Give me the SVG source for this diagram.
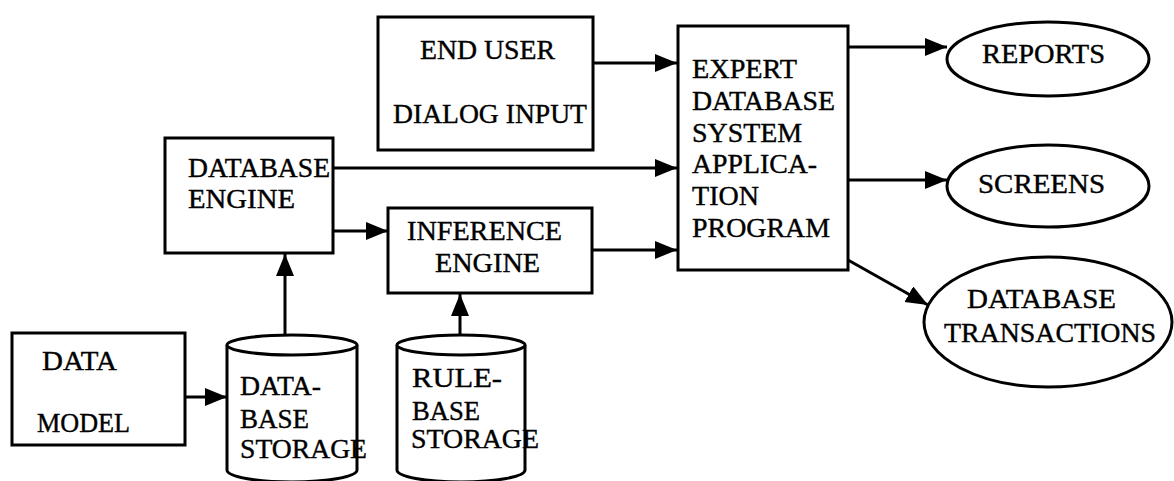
<svg xmlns="http://www.w3.org/2000/svg" width="1174" height="481" viewBox="0 0 1174 481">
  <style>
    .box { fill: #fff; stroke: #000; stroke-width: 3; }
    .edge { fill: none; stroke: #000; stroke-width: 3; }
    text { font-family: 'Liberation Serif', 'Times New Roman', serif; font-size: 28px; fill: #000; stroke: #000; stroke-width: 0.4; }
  </style>
  <defs>
    <marker id="arrow" markerUnits="userSpaceOnUse" markerWidth="24" markerHeight="20" refX="22" refY="9" orient="auto">
      <path d="M0,0 L22,9 L0,18 z" fill="#000"/>
    </marker>
  </defs>
  <rect width="1174" height="481" fill="#fff"/>

  <!-- Connectors -->
  <g id="connectors">
    <path class="edge" d="M593,63 L677,63" marker-end="url(#arrow)"/>
    <path class="edge" d="M333,168 L677,168" marker-end="url(#arrow)"/>
    <path class="edge" d="M333,231 L388,231" marker-end="url(#arrow)"/>
    <path class="edge" d="M592,250 L677,250" marker-end="url(#arrow)"/>
    <path class="edge" d="M848,47 L947,47" marker-end="url(#arrow)"/>
    <path class="edge" d="M848,180 L947,180" marker-end="url(#arrow)"/>
    <path class="edge" d="M848,260 L928,305" marker-end="url(#arrow)"/>
    <path class="edge" d="M185,397 L227,397" marker-end="url(#arrow)"/>
    <path class="edge" d="M285,335 L285,254" marker-end="url(#arrow)"/>
    <path class="edge" d="M460,335 L460,294" marker-end="url(#arrow)"/>
  </g>

  <!-- End user dialog input -->
  <g id="end-user">
    <rect class="box" x="378" y="17" width="215" height="133"/>
    <text x="420" y="59" textLength="135" lengthAdjust="spacingAndGlyphs">END USER</text>
    <text x="393" y="123" textLength="194" lengthAdjust="spacingAndGlyphs">DIALOG INPUT</text>
  </g>

  <!-- Database engine -->
  <g id="database-engine">
    <rect class="box" x="165" y="138" width="168" height="115"/>
    <text x="188" y="177" textLength="142" lengthAdjust="spacingAndGlyphs">DATABASE</text>
    <text x="188" y="208" textLength="107" lengthAdjust="spacingAndGlyphs">ENGINE</text>
  </g>

  <!-- Inference engine -->
  <g id="inference-engine">
    <rect class="box" x="388" y="208" width="204" height="85"/>
    <text x="407" y="240" textLength="155" lengthAdjust="spacingAndGlyphs">INFERENCE</text>
    <text x="435" y="272" textLength="105" lengthAdjust="spacingAndGlyphs">ENGINE</text>
  </g>

  <!-- Expert database system application program -->
  <g id="expert-program">
    <rect class="box" x="678" y="26" width="170" height="244"/>
    <text x="692" y="78" textLength="105" lengthAdjust="spacingAndGlyphs">EXPERT</text>
    <text x="692" y="110" textLength="143" lengthAdjust="spacingAndGlyphs">DATABASE</text>
    <text x="692" y="142" textLength="110" lengthAdjust="spacingAndGlyphs">SYSTEM</text>
    <text x="692" y="173" textLength="125" lengthAdjust="spacingAndGlyphs">APPLICA-</text>
    <text x="692" y="205" textLength="67" lengthAdjust="spacingAndGlyphs">TION</text>
    <text x="692" y="237" textLength="138" lengthAdjust="spacingAndGlyphs">PROGRAM</text>
  </g>

  <!-- Outputs -->
  <g id="reports">
    <ellipse class="box" cx="1048" cy="59" rx="101" ry="37"/>
    <text x="982" y="63" textLength="123" lengthAdjust="spacingAndGlyphs">REPORTS</text>
  </g>
  <g id="screens">
    <ellipse class="box" cx="1048" cy="186" rx="101" ry="41"/>
    <text x="978" y="193" textLength="127" lengthAdjust="spacingAndGlyphs">SCREENS</text>
  </g>
  <g id="database-transactions">
    <ellipse class="box" cx="1048" cy="322" rx="124" ry="65"/>
    <text x="967" y="308" textLength="149" lengthAdjust="spacingAndGlyphs">DATABASE</text>
    <text x="944" y="342" textLength="212" lengthAdjust="spacingAndGlyphs">TRANSACTIONS</text>
  </g>

  <!-- Data model -->
  <g id="data-model">
    <rect class="box" x="12" y="333" width="173" height="112"/>
    <text x="42" y="370" textLength="75" lengthAdjust="spacingAndGlyphs">DATA</text>
    <text x="37" y="432" textLength="93" lengthAdjust="spacingAndGlyphs">MODEL</text>
  </g>

  <!-- Database storage cylinder -->
  <g id="database-storage">
    <path class="box" d="M227,345 L227,470 A65,12 0 0 0 357,470 L357,345"/>
    <ellipse class="box" cx="292" cy="345" rx="65" ry="10"/>
    <text x="240" y="395" textLength="81" lengthAdjust="spacingAndGlyphs">DATA-</text>
    <text x="240" y="428" textLength="69" lengthAdjust="spacingAndGlyphs">BASE</text>
    <text x="240" y="458" textLength="127" lengthAdjust="spacingAndGlyphs">STORAGE</text>
  </g>

  <!-- Rule-base storage cylinder -->
  <g id="rulebase-storage">
    <path class="box" d="M397,345 L397,470 A64,12 0 0 0 525,470 L525,345"/>
    <ellipse class="box" cx="461" cy="345" rx="64" ry="10"/>
    <text x="412" y="387" textLength="90" lengthAdjust="spacingAndGlyphs">RULE-</text>
    <text x="412" y="420" textLength="68" lengthAdjust="spacingAndGlyphs">BASE</text>
    <text x="411" y="448" textLength="128" lengthAdjust="spacingAndGlyphs">STORAGE</text>
  </g>
</svg>
